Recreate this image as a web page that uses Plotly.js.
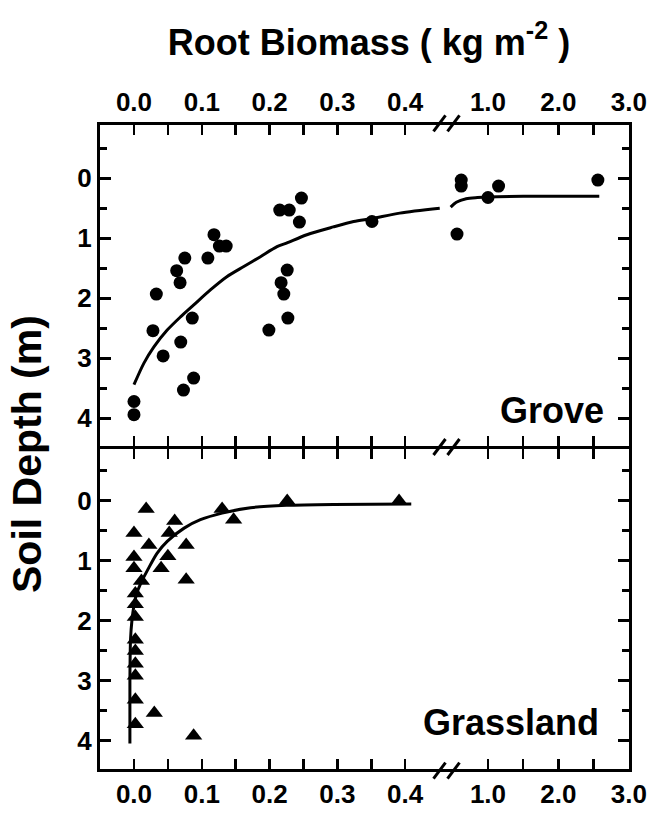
<!DOCTYPE html>
<html><head><meta charset="utf-8">
<script src="https://cdn.plot.ly/plotly-3.0.1.min.js"></script>
<style>html,body{margin:0;padding:0;background:#fff}</style>
</head><body><div id="chart" style="width:651px;height:814px"></div>
<script>
// ---- data ----
const groveLeftX = [0.0, 0.0, 0.033, 0.028, 0.043, 0.063, 0.068, 0.075, 0.086, 0.069, 0.073, 0.088, 0.109, 0.118, 0.126, 0.136, 0.215, 0.229, 0.247, 0.244, 0.226, 0.217, 0.221, 0.227, 0.199, 0.351];
const groveLeftY = [3.72, 3.94, 1.93, 2.54, 2.96, 1.54, 1.74, 1.33, 2.33, 2.73, 3.53, 3.33, 1.33, 0.94, 1.13, 1.13, 0.53, 0.53, 0.33, 0.73, 1.53, 1.74, 1.93, 2.33, 2.53, 0.72];
const groveRightX = [0.62, 0.62, 0.56, 1.15, 1.0, 2.56];
const groveRightY = [0.03, 0.13, 0.93, 0.13, 0.32, 0.03];
const groveFitLeftX = [0.0, 0.0147, 0.0294, 0.049, 0.0686, 0.0882, 0.1127, 0.137, 0.162, 0.186, 0.211, 0.225, 0.255, 0.294, 0.324, 0.351, 0.392, 0.451];
const groveFitLeftY = [3.44, 3.08, 2.81, 2.53, 2.31, 2.11, 1.86, 1.64, 1.47, 1.31, 1.14, 1.08, 0.94, 0.81, 0.72, 0.67, 0.58, 0.50];
const groveFitRightX = [0.47, 0.55, 0.69, 0.85, 1.0, 1.5, 2.0, 2.58];
const groveFitRightY = [0.48, 0.40, 0.34, 0.32, 0.31, 0.30, 0.30, 0.30];
const grassX = [0.018, 0.0, 0.022, 0.060, 0.052, 0.077, 0.050, 0.040, 0.0, 0.0, 0.011, 0.077, 0.002, 0.002, 0.002, 0.002, 0.002, 0.002, 0.002, 0.002, 0.030, 0.002, 0.088, 0.130, 0.147, 0.226, 0.391];
const grassY = [0.14, 0.54, 0.74, 0.34, 0.54, 0.74, 0.93, 1.13, 0.94, 1.13, 1.34, 1.32, 1.55, 1.73, 1.94, 2.32, 2.51, 2.72, 2.92, 3.32, 3.54, 3.73, 3.92, 0.14, 0.32, 0.01, 0.01];
const grassFitX = [-0.006, -0.006, -0.005, -0.003, 0.0, 0.004, 0.010, 0.020, 0.034, 0.049, 0.074, 0.098, 0.130, 0.172, 0.225, 0.294, 0.409];
const grassFitY = [4.05, 3.0, 2.3, 2.0, 1.75, 1.55, 1.38, 1.16, 0.88, 0.68, 0.46, 0.32, 0.21, 0.12, 0.08, 0.065, 0.06];
const leftTicks = [0, 0.1, 0.2, 0.3, 0.4];
const leftTickText = ['0.0', '0.1', '0.2', '0.3', '0.4'];
const leftMinor = [0.05, 0.15, 0.25, 0.35];
const rightTicks = [1, 2, 3];
const rightTickText = ['1.0', '2.0', '3.0'];
const rightMinor = [1.5, 2.5];
const depthTicks = [0, 1, 2, 3, 4];
const depthTickText = ['0', '1', '2', '3', '4'];
const depthMinor = [-0.5, 0.5, 1.5, 2.5, 3.5];
const panelLabels = ['Grove', 'Grassland'];
const xTitle = 'Root Biomass ( kg m<sup>-2</sup> )';
const yTitle = 'Soil Depth (m)';

// ---- layout helpers (pixel geometry of the frame) ----
const W = 651, H = 814;
const fx = v => v / W, fy = v => 1 - v / H;
const LW = 3, h = LW / 2;
const Lline = 98.5, Rline = 630.5, Tline = 123.3, Dline = 447, Bline = 770.7, BRK = 447;
const domL = [fx(Lline + h), fx(BRK)], domR = [fx(BRK), fx(Rline - h)];
const domTop = [fy(Dline - h), fy(Tline + h)], domBot = [fy(Bline - h), fy(Dline + h)];
const leftRange = [-0.0501, 0.4617], rightRange = [0.418, 3.002];
const topRange = [4.453, -0.892], botRange = [4.478, -0.867];
const FONT = 'Liberation Sans, Arial, Helvetica, sans-serif';
const tickFont = {family: FONT, size: 26, color: '#000', weight: 'bold'};

function xAx(dom, anchor, side, range, tv, tt, mv) {
  return {domain: dom, anchor: anchor, side: side, range: range, autorange: false,
    tickmode: 'array', tickvals: tv, ticktext: tt, ticks: 'inside', ticklen: 10, tickwidth: 2.5,
    tickcolor: '#000', showline: true, linewidth: LW, linecolor: '#000', mirror: 'ticks',
    minor: {tickmode: 'array', tickvals: mv, ticks: 'inside', ticklen: 10, tickwidth: 2.5, tickcolor: '#000'},
    showgrid: false, zeroline: false, tickfont: tickFont, fixedrange: true};
}
function yAx(dom, anchor, side, range, labels, overlay) {
  const a = {domain: dom, anchor: anchor, side: side, range: range, autorange: false,
    tickmode: 'array', tickvals: depthTicks, ticktext: depthTickText, ticks: 'inside', ticklen: 11, tickwidth: 2.5,
    tickcolor: '#000', showline: true, linewidth: LW, linecolor: '#000',
    minor: {tickmode: 'array', tickvals: depthMinor, ticks: 'inside', ticklen: 7, tickwidth: 2.5, tickcolor: '#000'},
    showgrid: false, zeroline: false, showticklabels: labels, tickfont: tickFont, fixedrange: true};
  if (overlay) a.overlaying = overlay;
  return a;
}

const mk = {color: '#000', size: 13, symbol: 'circle', line: {width: 0}};
const tk = {color: '#000', size: 15, symbol: 'triangle-up', line: {width: 0}};
const ln = {color: '#000', width: 3, shape: 'spline', smoothing: 0.8};

const traces = [
  {x: groveLeftX, y: groveLeftY, xaxis: 'x', yaxis: 'y', mode: 'markers', marker: mk},
  {x: groveRightX, y: groveRightY, xaxis: 'x2', yaxis: 'y', mode: 'markers', marker: mk},
  {x: groveFitLeftX, y: groveFitLeftY, xaxis: 'x', yaxis: 'y', mode: 'lines', line: ln},
  {x: groveFitRightX, y: groveFitRightY, xaxis: 'x2', yaxis: 'y', mode: 'lines', line: ln},
  {x: grassX, y: grassY, xaxis: 'x3', yaxis: 'y2', mode: 'markers', marker: tk},
  {x: grassFitX, y: grassFitY, xaxis: 'x3', yaxis: 'y2', mode: 'lines', line: ln},
  // empty traces so the remaining frame subplots are built
  {x: [], y: [], xaxis: 'x4', yaxis: 'y2', mode: 'markers', hoverinfo: 'skip'},
  {x: [], y: [], xaxis: 'x2', yaxis: 'y3', mode: 'markers', hoverinfo: 'skip'},
  {x: [], y: [], xaxis: 'x4', yaxis: 'y4', mode: 'markers', hoverinfo: 'skip'}
];

const shapes = [];
[Tline, Dline, Bline].forEach(yy => {
  [439.5, 453.5].forEach(cx => {
    shapes.push({type: 'line', xref: 'paper', yref: 'paper',
      x0: fx(cx - 6), y0: fy(yy + 8), x1: fx(cx + 6), y1: fy(yy - 8),
      line: {color: '#000', width: 3}});
  });
});

const bigFont = {family: FONT, size: 36, color: '#000', weight: 'bold'};
const yTitleFont = {family: FONT, size: 41, color: '#000', weight: 'bold'};
const layout = {
  width: W, height: H, margin: {l: 0, r: 0, t: 0, b: 0},
  paper_bgcolor: '#fff', plot_bgcolor: '#fff', showlegend: false,
  title: {text: xTitle, font: bigFont, xref: 'paper', yref: 'paper', x: fx(369), y: fy(42), xanchor: 'center', yanchor: 'middle'},
  xaxis: xAx(domL, 'y', 'top', leftRange, leftTicks, leftTickText, leftMinor),
  xaxis2: xAx(domR, 'y', 'top', rightRange, rightTicks, rightTickText, rightMinor),
  xaxis3: xAx(domL, 'y2', 'bottom', leftRange, leftTicks, leftTickText, leftMinor),
  xaxis4: xAx(domR, 'y2', 'bottom', rightRange, rightTicks, rightTickText, rightMinor),
  yaxis: yAx(domTop, 'x', 'left', topRange, true),
  yaxis2: yAx(domBot, 'x3', 'left', botRange, true),
  yaxis3: yAx(domTop, 'x2', 'right', topRange, false, 'y'),
  yaxis4: yAx(domBot, 'x4', 'right', botRange, false, 'y2'),
  shapes: shapes,
  annotations: [
    {text: yTitle, textangle: -90, xref: 'paper', yref: 'paper', x: fx(27), y: fy(454), xanchor: 'center', yanchor: 'middle', showarrow: false, font: yTitleFont},
    {text: panelLabels[0], xref: 'paper', yref: 'paper', x: fx(606), y: fy(410), xanchor: 'right', yanchor: 'middle', showarrow: false, font: bigFont},
    {text: panelLabels[1], xref: 'paper', yref: 'paper', x: fx(601), y: fy(722), xanchor: 'right', yanchor: 'middle', showarrow: false, font: bigFont}
  ]
};

Plotly.newPlot('chart', traces, layout, {displayModeBar: false, staticPlot: true});
</script></body></html>
